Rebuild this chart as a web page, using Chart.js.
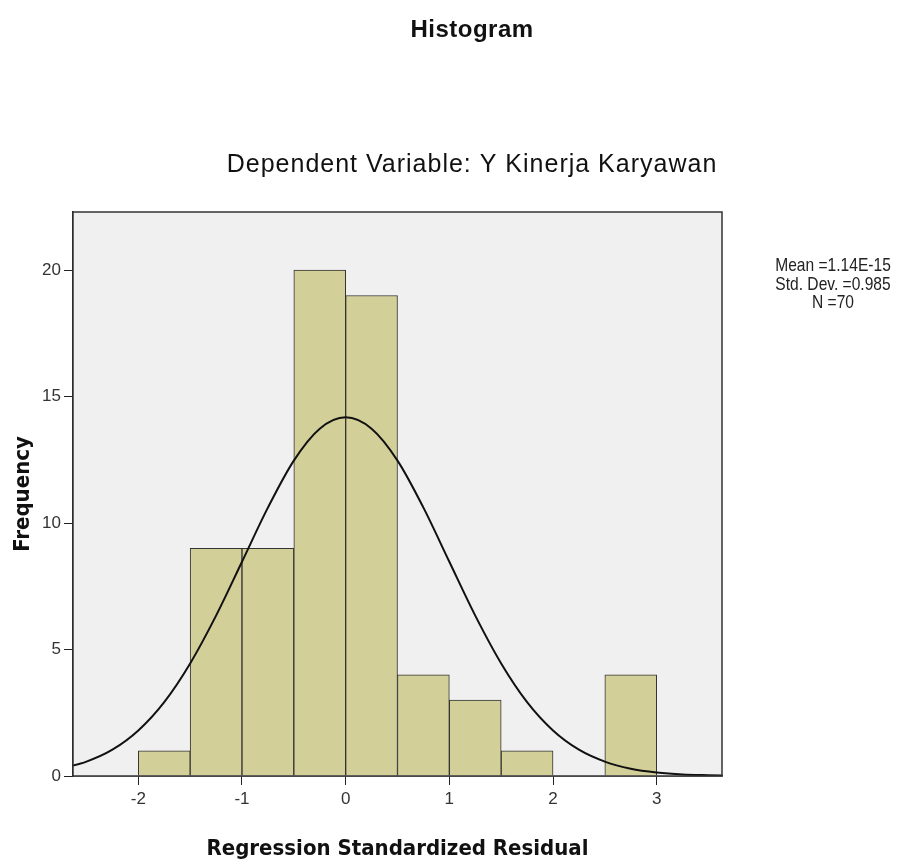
<!DOCTYPE html>
<html>
<head>
<meta charset="utf-8">
<script src="https://cdn.jsdelivr.net/npm/chart.js@4.4.1/dist/chart.umd.min.js"></script>
<style>
  html, body { margin: 0; padding: 0; background: #fff; }
  #wrap { width: 903px; height: 865px; }
</style>
</head>
<body>
<div id="wrap"><canvas id="cHist" width="903" height="865"></canvas></div>
<script>
// ── Datos del histograma ─────────────────────────────────────
const BIN_CENTERS = [-1.75, -1.25, -0.75, -0.25, 0.25, 0.75, 1.25, 1.75, 2.25, 2.75];
const COUNTS      = [1, 9, 9, 20, 19, 4, 3, 1, 0, 4];

// Curva normal superpuesta
const CURVE_X = [-2.75, -2.5, -2.25, -2, -1.75, -1.5, -1.25, -1, -0.75, -0.5, -0.25, 0,
                 0.25, 0.5, 0.75, 1, 1.25, 1.5, 1.75, 2, 2.25, 2.5, 2.75, 3, 3.25, 3.5, 3.75];
const CURVE_Y = [0.29, 0.57, 1.04, 1.80, 2.92, 4.45, 6.34, 8.47, 10.61, 12.47, 13.73, 14.18,
                 13.73, 12.47, 10.61, 8.47, 6.34, 4.45, 2.92, 1.80, 1.04, 0.57, 0.29, 0.14, 0.06, 0.03, 0.01];

const X_TICKS = [-2, -1, 0, 1, 2, 3];
const Y_TICKS = [0, 5, 10, 15, 20];

const TITLE = 'Histogram';
const SUBTITLE = 'Dependent Variable: Y Kinerja Karyawan';
const STATS = ['Mean =1.14E-15', 'Std. Dev. =0.985', 'N =70'];

const SANS = '"Liberation Sans", Arial, sans-serif';
const TICK_FONT = { family: SANS, size: 17 };
const AXIS_FONT = { family: '"DejaVu Sans Condensed", "DejaVu Sans", sans-serif', size: 22, weight: 'bold' };

// ── Plugin: fondo del área, marco y textos SPSS ──────────────
const spssFrame = {
  id: 'spssFrame',
  beforeDatasetsDraw(chart) {
    const { ctx, chartArea: a } = chart;
    ctx.save();
    ctx.fillStyle = '#f0f0f0';
    ctx.fillRect(a.left, a.top, a.right - a.left, a.bottom - a.top);
    ctx.restore();
  },
  afterDraw(chart) {
    const { ctx, chartArea: a } = chart;
    ctx.save();
    ctx.strokeStyle = '#333';
    ctx.lineWidth = 1.5;
    ctx.strokeRect(a.left, a.top, a.right - a.left, a.bottom - a.top);

    ctx.fillStyle = '#111';
    ctx.textAlign = 'center';
    ctx.textBaseline = 'alphabetic';

    ctx.font = 'bold 24px ' + SANS;
    ctx.letterSpacing = '0.5px';
    ctx.fillText(TITLE, 472, 37);

    ctx.font = '25px ' + SANS;
    ctx.letterSpacing = '1px';
    ctx.fillText(SUBTITLE, 472, 172);

    // Texto estrecho tipo Arial Narrow: escala horizontal
    ctx.letterSpacing = '0px';
    ctx.font = '19px ' + SANS;
    ctx.fillStyle = '#222';
    ctx.translate(833, 0);
    ctx.scale(0.82, 1);
    STATS.forEach((s, i) => ctx.fillText(s, 0, 271 + i * 18.5));
    ctx.restore();
  }
};

new Chart(document.getElementById('cHist').getContext('2d'), {
  data: {
    datasets: [
      {
        type: 'line',
        order: 0,
        data: CURVE_X.map((x, i) => ({ x, y: CURVE_Y[i] })),
        borderColor: '#111', borderWidth: 2,
        pointRadius: 0, cubicInterpolationMode: 'monotone', fill: false
      },
      {
        type: 'bar',
        order: 1,
        data: BIN_CENTERS.map((x, i) => ({ x, y: COUNTS[i] || null })),
        backgroundColor: '#d3cf98', borderColor: '#333', borderWidth: 1,
        barPercentage: 1, categoryPercentage: 1
      }
    ]
  },
  options: {
    responsive: false, animation: false,
    layout: { padding: { top: 212, right: 181, left: 0, bottom: 0 } },
    plugins: { legend: { display: false }, tooltip: { enabled: false } },
    scales: {
      x: {
        type: 'linear', min: -2.63, max: 3.63, offset: false,
        afterFit: s => { s.height = 89; },
        afterBuildTicks: s => { s.ticks = X_TICKS.map(v => ({ value: v })); },
        grid: { offset: false, drawOnChartArea: false, tickLength: 9, tickColor: '#222' },
        border: { color: '#222', width: 1.5 },
        ticks: { color: '#333', font: TICK_FONT, padding: 4, maxRotation: 0, includeBounds: false },
        title: { display: true, text: 'Regression Standardized Residual', color: '#111', font: AXIS_FONT, padding: { top: 0, bottom: 3 } }
      },
      y: {
        type: 'linear', min: 0, max: 22.3,
        afterFit: s => { s.width = 73; },
        afterBuildTicks: s => { s.ticks = Y_TICKS.map(v => ({ value: v })); },
        grid: { drawOnChartArea: false, tickLength: 9, tickColor: '#222' },
        border: { color: '#222', width: 1.5 },
        ticks: { color: '#333', font: TICK_FONT, padding: 3, includeBounds: false },
        title: { display: true, text: 'Frequency', color: '#111', font: AXIS_FONT, padding: { top: 10, bottom: 0 } }
      }
    }
  },
  plugins: [spssFrame]
});
</script>
</body>
</html>
